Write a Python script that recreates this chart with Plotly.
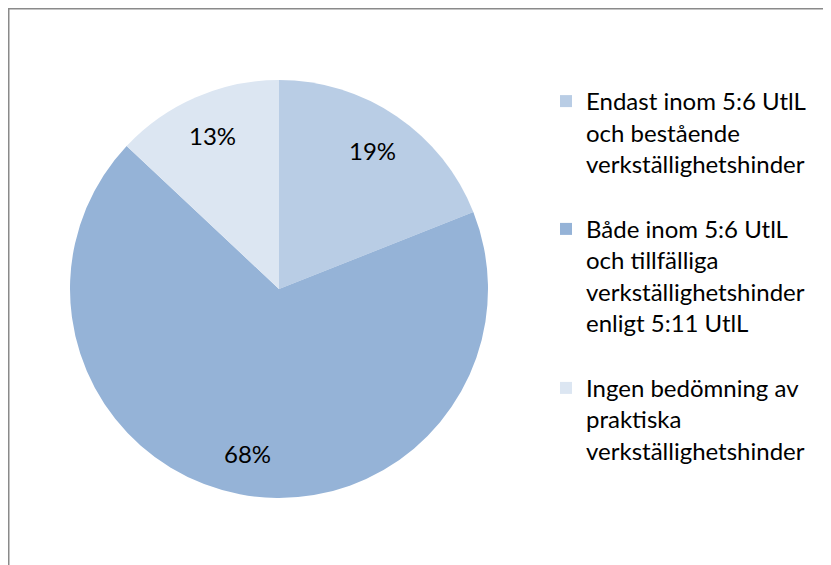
import math
import plotly.graph_objects as go

labels = [
    "Endast inom 5:6 UtlL<br>och bestående<br>verkställighetshinder<br> ",
    "Både inom 5:6 UtlL<br>och tillfälliga<br>verkställighetshinder<br>enligt 5:11 UtlL<br> ",
    "Ingen bedömning av<br>praktiska<br>verkställighetshinder",
]
values = [19, 68, 13]
colors = ["#B9CDE5", "#95B3D7", "#DCE6F2"]

# page has an 8px body margin, so the figure is a bit smaller than the window
W, H = 823, 557
FONT = "Lato, 'Open Sans', sans-serif"

# pie geometry (figure pixels)
cx, cy, R = 271, 281, 209
dom_x = [(cx - R) / W, (cx + R) / W]
dom_y = [(H - cy - R) / H, (H - cy + R) / H]

fig = go.Figure(go.Pie(
    labels=labels,
    values=values,
    sort=False,
    direction="clockwise",
    rotation=0,
    marker=dict(colors=colors, line=dict(width=0)),
    textinfo="none",
    domain=dict(x=dom_x, y=dom_y),
    hoverinfo="percent",
))

# percentage labels placed like Excel: at ~80% of the radius, mid-slice
total = sum(values)
start = 0.0
for v in values:
    mid = (start + v / 2) / total * 2 * math.pi
    start += v
    px_ = cx + 0.8 * R * math.sin(mid)
    py_ = cy - 0.8 * R * math.cos(mid)
    fig.add_annotation(x=px_ / W, y=(H - py_) / H, xref="paper", yref="paper",
                       xanchor="center", yanchor="middle",
                       text=f"{round(v / total * 100)}%", showarrow=False,
                       font=dict(family=FONT, size=24, color="black"))

# chart frame (only top and left edges fall inside the window)
fig.add_shape(type="rect", xref="paper", yref="paper",
              x0=0.5 / W, x1=1.05, y0=-0.05, y1=(H - 0.5) / H,
              line=dict(color="#8a8a8a", width=2), fillcolor="rgba(0,0,0,0)")

fig.update_layout(
    width=W, height=H,
    margin=dict(l=0, r=0, t=0, b=0),
    paper_bgcolor="white",
    plot_bgcolor="white",
    font=dict(family=FONT, size=24, color="black"),
    showlegend=True,
    legend=dict(x=538 / W, y=(H - 71) / H, xanchor="left", yanchor="top",
                valign="top", itemwidth=30,
                font=dict(family=FONT, size=24, color="black"),
                bgcolor="rgba(0,0,0,0)"),
)

fig.write_html("out.html")
